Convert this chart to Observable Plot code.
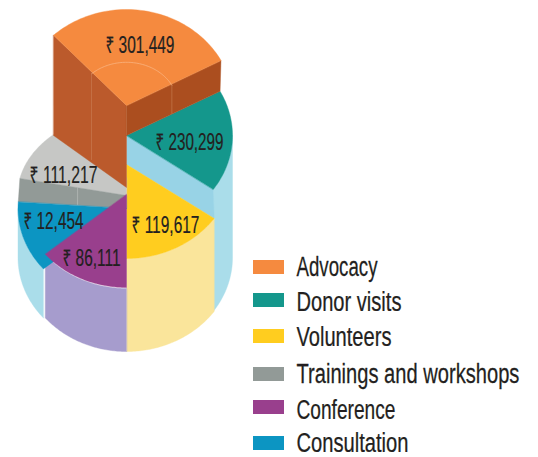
<!DOCTYPE html>
<html>
<head>
<meta charset="utf-8">
<script src="https://cdn.jsdelivr.net/npm/d3@7"></script>
<script src="https://cdn.jsdelivr.net/npm/@observablehq/plot@0.6"></script>
<style>html,body{margin:0;padding:0;background:#fff}svg{display:block}</style>
</head>
<body>
<div id="chart"></div>
<script>
// ---- chart values (as printed) ----
const categories = ["Advocacy", "Donor visits", "Volunteers", "Trainings and workshops", "Conference", "Consultation"];
const values = [301449, 230299, 119617, 111217, 86111, 12454];
const topColors = ["#f58a3f", "#14978c", "#ffcd1f", "#929a97", "#993f8d", "#0c95c2"];

// ---- drawing layout (the slices are not proportional) ----
const startDeg = [-43, 62, 125, 282, 180, 230];
const endDeg = [62, 125, 180, 319, 230, 274];
const apexY = [105, 135, 164, 195, 194, 208];
const radiusX = [107, 106, 107, 109, 106, 108.5];
const radiusY = [96, 94, 94, 82, 93, 94];
const centerX = 126, baseY = 257, baseRy = 94;
const advocacyFootY = 187, advocacyFootOuterY = 135;
const labelLeft = [105, 155, 131, 29, 62, 23];
const labelBase = [52, 149, 232, 182, 265, 228];
const labelWidth = [69, 68, 68, 68, 58, 60];
const legendTop = [260, 293, 329, 367, 400, 436];
const legendBase = [275, 310, 345, 382, 418, 451];
const legendWidth = [81, 105, 95, 223, 99, 112];

const sw = {x1: 253, x2: 284, h: 14, text: 296};
const fontFace = "'Liberation Sans Narrow','Liberation Sans','Noto Sans',sans-serif";
const ink = "#231f20";
const valueSize = 23, legendSize = 28;

const rad = d => d * Math.PI / 180;
const pt = (deg, cy, rx, ry) => ({x: centerX + rx * Math.sin(rad(deg)), y: cy - ry * Math.cos(rad(deg))});
const arc = (a, b, cy, rx, ry) => d3.range(0, 61).map(k => pt(a + (b - a) * k / 60, cy, rx, ry));
const apex = y => ({x: centerX, y});
const wedge = i => [apex(apexY[i]), ...arc(startDeg[i], endDeg[i], apexY[i], radiusX[i], radiusY[i])].map(p => ({...p, category: categories[i]}));
const wall = (a, b, cy, rx) => [...arc(a, b, cy, rx, baseRy), ...arc(b, a, baseY, rx, baseRy)];

const [ADV, DON, VOL, TRA, CON, CNS] = [0, 1, 2, 3, 4, 5];
const poly = (pts, fill) => Plot.line(pts, {x: "x", y: "y", curve: "linear-closed", fill, stroke: fill, strokeWidth: 0.4});
const face = i => Plot.line(wedge(i), {x: "x", y: "y", z: "category", curve: "linear-closed", fill: "category", stroke: "category", strokeWidth: 0.4});
const thin = (pts, c) => Plot.line(pts, {x: "x", y: "y", stroke: c, strokeWidth: 0.7});

const A0 = pt(startDeg[ADV], apexY[ADV], radiusX[ADV], radiusY[ADV]);
const A1 = pt(endDeg[ADV], apexY[ADV], radiusX[ADV], radiusY[ADV]);
const T1 = pt(endDeg[DON], apexY[DON], radiusX[DON], radiusY[DON]);
const G0 = pt(startDeg[TRA], apexY[TRA], radiusX[TRA], radiusY[TRA]);
const B1 = pt(endDeg[CNS], apexY[CNS], radiusX[CNS], radiusY[CNS]);
const Ypt = pt(startDeg[VOL], apexY[VOL], radiusX[VOL], radiusY[VOL]);
const orangeRightFoot = pt(endDeg[ADV], apexY[DON], radiusX[DON], radiusY[DON]);
const inner = (deg, cy) => pt(deg, cy, radiusX[ADV] * 0.48, radiusY[ADV] * 0.45);

const meter = document.createElement("canvas").getContext("2d");
function squeezed(widths, size) {
  return function (index, scales, channels, dims, ctx, next) {
    const g = next(index, scales, channels, dims, ctx);
    meter.font = `${size}px ${fontFace}`;
    d3.select(g).selectAll("text").attr("transform", function (i) {
      const t = this.getAttribute("transform") || "";
      return `${t} scale(${widths[i] / meter.measureText(this.textContent).width},1)`;
    });
    return g;
  };
}

const marks = [
  poly(wall(90, endDeg[DON], apexY[DON], radiusX[DON]), "#aaddea"),
  poly(wall(startDeg[CNS], 270, apexY[CNS], radiusX[CNS]), "#aaddea"),
  poly([apex(apexY[DON]), T1, Ypt, apex(apexY[VOL])], "#98d3e6"),
  poly(wall(startDeg[VOL], endDeg[VOL], apexY[VOL], radiusX[VOL]), "#fae59b"),
  poly(wall(startDeg[CON], endDeg[CON], apexY[CON], radiusX[CON]), "#a69ccd"),
  face(VOL),
  poly([apex(apexY[TRA]), ...arc(startDeg[TRA], endDeg[TRA], apexY[TRA], radiusX[TRA], radiusY[TRA]), apex(advocacyFootY - 10)], "#c6c7c5"),
  poly([apex(apexY[TRA]), G0, B1, apex(apexY[CNS])], "#929a97"),
  thin([pt(startDeg[TRA], apexY[TRA], 50, 38), pt(startDeg[TRA], apexY[TRA] + 18, 50, 38)], "#b7bdba"),
  face(CNS),
  face(CON),
  face(DON),
  poly([A0, apex(apexY[ADV]), apex(advocacyFootY), {x: A0.x, y: advocacyFootOuterY}], "#bb5a2c"),
  poly([apex(apexY[ADV]), A1, orangeRightFoot, apex(apexY[DON])], "#ab4e1f"),
  face(ADV),
  thin(arc(startDeg[ADV], endDeg[ADV], apexY[ADV], radiusX[ADV] * 0.48, radiusY[ADV] * 0.45), "#f9b98a"),
  thin([inner(startDeg[ADV], apexY[ADV]), {x: inner(startDeg[ADV], 0).x, y: 159}], "#c97a50"),
  thin([inner(endDeg[ADV], apexY[ADV]), {x: inner(endDeg[ADV], 0).x, y: 113}], "#c47a4e"),
  Plot.text(categories, {
    x: (_, i) => labelLeft[i], y: (_, i) => labelBase[i],
    text: (_, i) => "₹ " + d3.format(",")(values[i]),
    textAnchor: "start", lineAnchor: "bottom", fontSize: valueSize, fontFamily: fontFace, fill: ink,
    stroke: ink, strokeWidth: 0.2,
    render: squeezed(labelWidth, valueSize)
  }),
  Plot.rect(categories, {
    x1: sw.x1, x2: sw.x2,
    y1: (_, i) => legendTop[i], y2: (_, i) => legendTop[i] + sw.h,
    fill: d => d
  }),
  Plot.text(categories, {
    x: sw.text, y: (_, i) => legendBase[i], text: d => d,
    textAnchor: "start", lineAnchor: "bottom", fontSize: legendSize, fontFamily: fontFace, fill: ink,
    stroke: ink, strokeWidth: 0.25,
    render: squeezed(legendWidth, legendSize)
  })
];

const chart = Plot.plot({
  width: 538, height: 457,
  margin: 0,
  x: {domain: [0, 538], range: [0, 538], axis: null},
  y: {domain: [0, 457], range: [0, 457], axis: null},
  color: {domain: categories, range: topColors, legend: false},
  style: {background: "#fff"},
  marks
});
document.getElementById("chart").append(chart);
</script>
</body>
</html>
